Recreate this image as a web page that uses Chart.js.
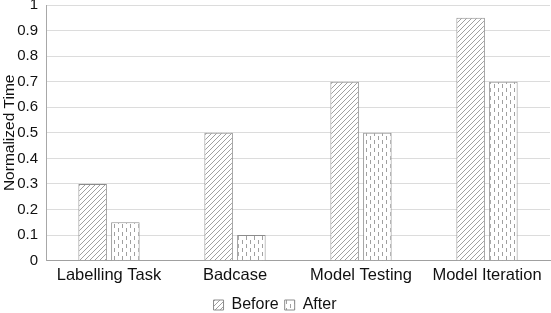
<!DOCTYPE html>
<html>
<head>
<meta charset="utf-8">
<script src="https://cdn.jsdelivr.net/npm/chart.js@4.4.1/dist/chart.umd.min.js"></script>
<style>
  html, body { margin: 0; padding: 0; background: #fff; }
  #wrap { width: 551px; height: 313px; position: relative; }
</style>
</head>
<body>
<div id="wrap"><canvas id="timeChart"></canvas></div>
<script>
const categories = ['Labelling Task', 'Badcase', 'Model Testing', 'Model Iteration'];
const beforeValues = [0.3, 0.5, 0.7, 0.95];
const afterValues = [0.15, 0.1, 0.5, 0.7];
const yTicks = [0, 0.1, 0.2, 0.3, 0.4, 0.5, 0.6, 0.7, 0.8, 0.9, 1];

function hatchPattern() {
    const c = document.createElement('canvas');
    c.width = 5; c.height = 5;
    const g = c.getContext('2d');
    g.fillStyle = '#fff';
    g.fillRect(0, 0, 5, 5);
    g.strokeStyle = '#a0a0a0';
    g.lineWidth = 1;
    g.beginPath();
    g.moveTo(0, 5); g.lineTo(5, 0);
    g.moveTo(-3, 3); g.lineTo(3, -3);
    g.moveTo(2, 8); g.lineTo(8, 2);
    g.stroke();
    return g.createPattern(c, 'repeat');
}

function dashPattern() {
    const c = document.createElement('canvas');
    c.width = 8; c.height = 8;
    const g = c.getContext('2d');
    g.fillStyle = '#fff';
    g.fillRect(0, 0, 8, 8);
    g.fillStyle = '#a0a0a0';
    g.fillRect(2, 0, 1, 4);
    g.fillRect(6, 4, 1, 4);
    return g.createPattern(c, 'repeat');
}

document.addEventListener('DOMContentLoaded', function () {
    const ctx = document.getElementById('timeChart');
    const font = "'Liberation Sans', Arial, sans-serif";

    new Chart(ctx.getContext('2d'), {
        type: 'bar',
        data: {
            labels: categories,
            datasets: [{
                label: 'Before',
                data: beforeValues,
                backgroundColor: hatchPattern(),
                borderColor: '#8c8c8c',
                borderWidth: 1
            }, {
                label: 'After',
                data: afterValues,
                backgroundColor: dashPattern(),
                borderColor: '#8c8c8c',
                borderWidth: 1
            }]
        },
        options: {
            responsive: true,
            maintainAspectRatio: false,
            animation: false,
            layout: { padding: { top: 5, right: 1, left: 0, bottom: -10 } },
            datasets: {
                bar: { categoryPercentage: 0.52, barPercentage: 0.87 }
            },
            scales: {
                x: {
                    grid: { display: false, drawTicks: false },
                    border: { color: '#a0a0a0' },
                    ticks: { color: '#111', padding: 9, font: { family: font, size: 16.5, lineHeight: 0.75 } }
                },
                y: {
                    min: 0,
                    max: 1,
                    afterBuildTicks: function (axis) {
                        axis.ticks = yTicks.map(v => ({ value: v }));
                    },
                    afterFit: function (axis) {
                        axis.width = 46;
                        axis.paddingTop = 0;
                        axis.paddingBottom = 0;
                    },
                    grid: { color: '#dcdcdc', drawTicks: false },
                    border: { color: '#a8a8a8' },
                    ticks: {
                        color: '#111',
                        padding: 8,
                        font: { family: font, size: 15, lineHeight: 0.6 },
                        callback: v => String(v)
                    },
                    title: {
                        display: true,
                        text: 'Normalized Time',
                        color: '#111',
                        padding: { top: 0, bottom: 0 },
                        font: { family: font, size: 15.5, lineHeight: 1.25 }
                    }
                }
            },
            plugins: {
                legend: {
                    position: 'bottom',
                    labels: {
                        color: '#111',
                        boxWidth: 10,
                        boxHeight: 10,
                        padding: 6,
                        font: { family: font, size: 16 }
                    }
                },
                tooltip: { enabled: false }
            }
        }
    });
});
</script>
</body>
</html>
